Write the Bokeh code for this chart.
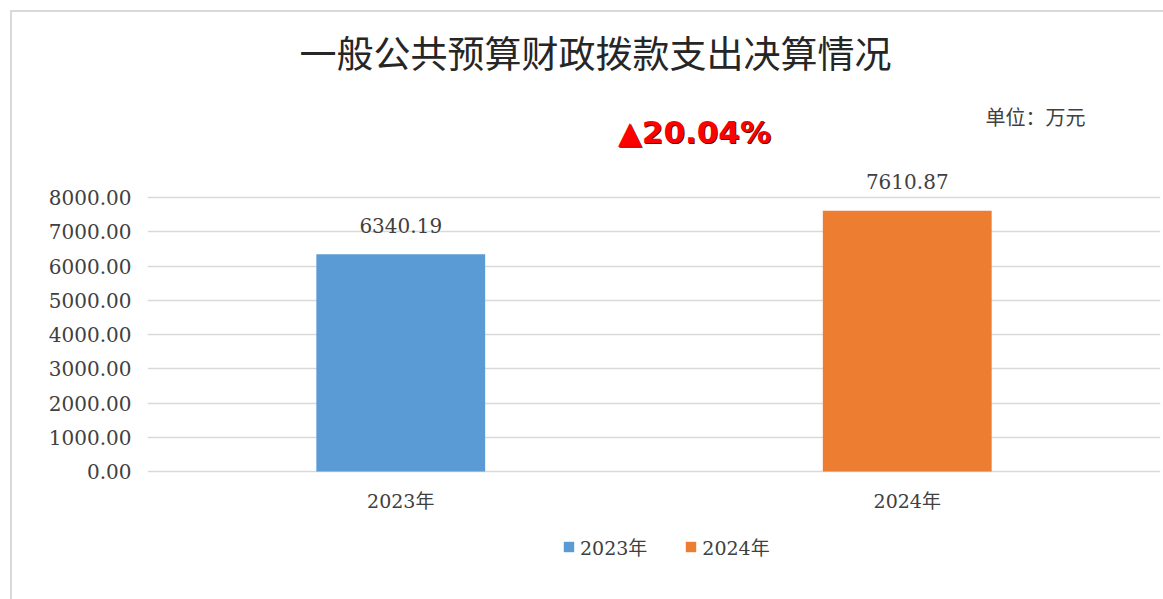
from bokeh.plotting import figure
from bokeh.models import (ColumnDataSource, FactorRange, Range1d, FixedTicker,
                          NumeralTickFormatter, Label, Div, Spacer)
from bokeh.layouts import column, row
from bokeh.embed import file_html
from bokeh.resources import INLINE

# ---- data ----
years = ["2023年", "2024年"]
values = [6340.19, 7610.87]
colors = ["#5B9BD5", "#ED7D31"]
y_ticks = [0, 1000, 2000, 3000, 4000, 5000, 6000, 7000, 8000]
title_text = "一般公共预算财政拨款支出决算情况"
unit_text = "单位：万元"

growth = (values[1] - values[0]) / values[0] * 100
growth_text = "▲%.2f%%" % growth
labels = ["%.2f" % v for v in values]

# ---- layout geometry (page pixels) ----
W, H = 1163, 599
off = 12                       # chart area starts after the grey border
FW, FH = W - off, H - off      # figure canvas size
frame_left, frame_right = 147, 1160
frame_top, frame_bottom = off, H
px_zero, px_8000 = 471, 197
upp = 8000 / (px_zero - px_8000)          # data units per pixel
y_start = -(frame_bottom - px_zero) * upp
y_end = (px_zero - frame_top) * upp

src = ColumnDataSource(dict(year=years, value=values, color=colors, label=labels))

fig = figure(width=FW, height=FH, output_backend="svg", toolbar_location=None,
             x_range=FactorRange(factors=years, range_padding=0),
             y_range=Range1d(y_start, y_end),
             min_border_left=frame_left - off, min_border_right=W - frame_right,
             min_border_top=0, min_border_bottom=0)
fig.outline_line_color = None
fig.background_fill_color = "white"
fig.border_fill_color = "white"

r = fig.vbar(x="year", top="value", width=1/3, fill_color="color", line_color=None,
             source=src, legend_field="year")

fig.text(x="year", y="value", text="label", source=src, text_align="center",
         text_baseline="middle", y_offset=-29, text_font_size="20px",
         text_color="#404040", text_font={"value": "DejaVu Serif"})

# axes
fig.yaxis.ticker = FixedTicker(ticks=y_ticks)
fig.yaxis.formatter = NumeralTickFormatter(format="0.00")
fig.xaxis.fixed_location = 0
for ax in (fig.xaxis[0], fig.yaxis[0]):
    ax.axis_line_color = None
    ax.major_tick_line_color = None
    ax.minor_tick_line_color = None
    ax.major_tick_out = 0
    ax.major_tick_in = 0
    ax.major_label_text_color = "#404040"
    ax.major_label_text_font = "DejaVu Serif, Noto Sans CJK SC"
fig.yaxis.major_label_text_font_size = "20px"
fig.yaxis.major_label_standoff = 16
fig.xaxis.major_label_text_font_size = "19px"
fig.xaxis.major_label_standoff = 18

fig.xgrid.grid_line_color = None
fig.ygrid.grid_line_color = "#D9D9D9"
fig.ygrid.grid_line_width = 1.5

# legend (inside the extended frame, below the category labels)
leg = fig.legend[0]
leg.orientation = "horizontal"
leg.location = (562 - frame_left, frame_bottom - 560)
leg.glyph_width = 13
leg.glyph_height = 13
leg.label_standoff = 5
leg.spacing = 37
leg.padding = 0
leg.margin = 0
leg.border_line_color = None
leg.background_fill_alpha = 0
leg.label_text_font = "DejaVu Serif, Noto Sans CJK SC"
leg.label_text_font_size = "19px"
leg.label_text_color = "#404040"

# title
fig.add_layout(Label(x=595 - frame_left, y=frame_bottom - 51, x_units="screen", y_units="screen",
                     text=title_text, text_align="center", text_baseline="middle",
                     text_font="Noto Sans CJK SC", text_font_size="37px", text_color="#262626"))
# unit
fig.add_layout(Label(x=985 - frame_left, y=frame_bottom - 116, x_units="screen", y_units="screen",
                     text=unit_text, text_align="left", text_baseline="middle",
                     text_font="Noto Sans CJK SC", text_font_size="20px", text_color="#404040"))
# growth marker
fig.add_layout(Label(x=695 - frame_left, y=frame_bottom - 132, x_units="screen", y_units="screen",
                     text=growth_text, text_align="center", text_baseline="middle",
                     text_font="DejaVu Sans", text_font_style="bold", text_font_size="31px",
                     text_color="#5A0000"))
fig.add_layout(Label(x=694 - frame_left, y=frame_bottom - 131, x_units="screen", y_units="screen",
                     text=growth_text, text_align="center", text_baseline="middle",
                     text_font="DejaVu Sans", text_font_style="bold", text_font_size="31px",
                     text_color="#FF0000"))

# light grey chart border (top and left edges visible)
border = "#D9D9D9"
top_line = Div(text="", width=W - 10, height=2, margin=0, styles={"background-color": border})
left_line = Div(text="", width=2, height=FH, margin=0, styles={"background-color": border})
p = column(Spacer(width=W, height=10, margin=0),
           row(Spacer(width=10, height=2, margin=0), top_line, spacing=0),
           row(Spacer(width=10, height=FH, margin=0), left_line, fig, spacing=0),
           spacing=0)

open("out.html", "w").write(file_html(p, INLINE))
